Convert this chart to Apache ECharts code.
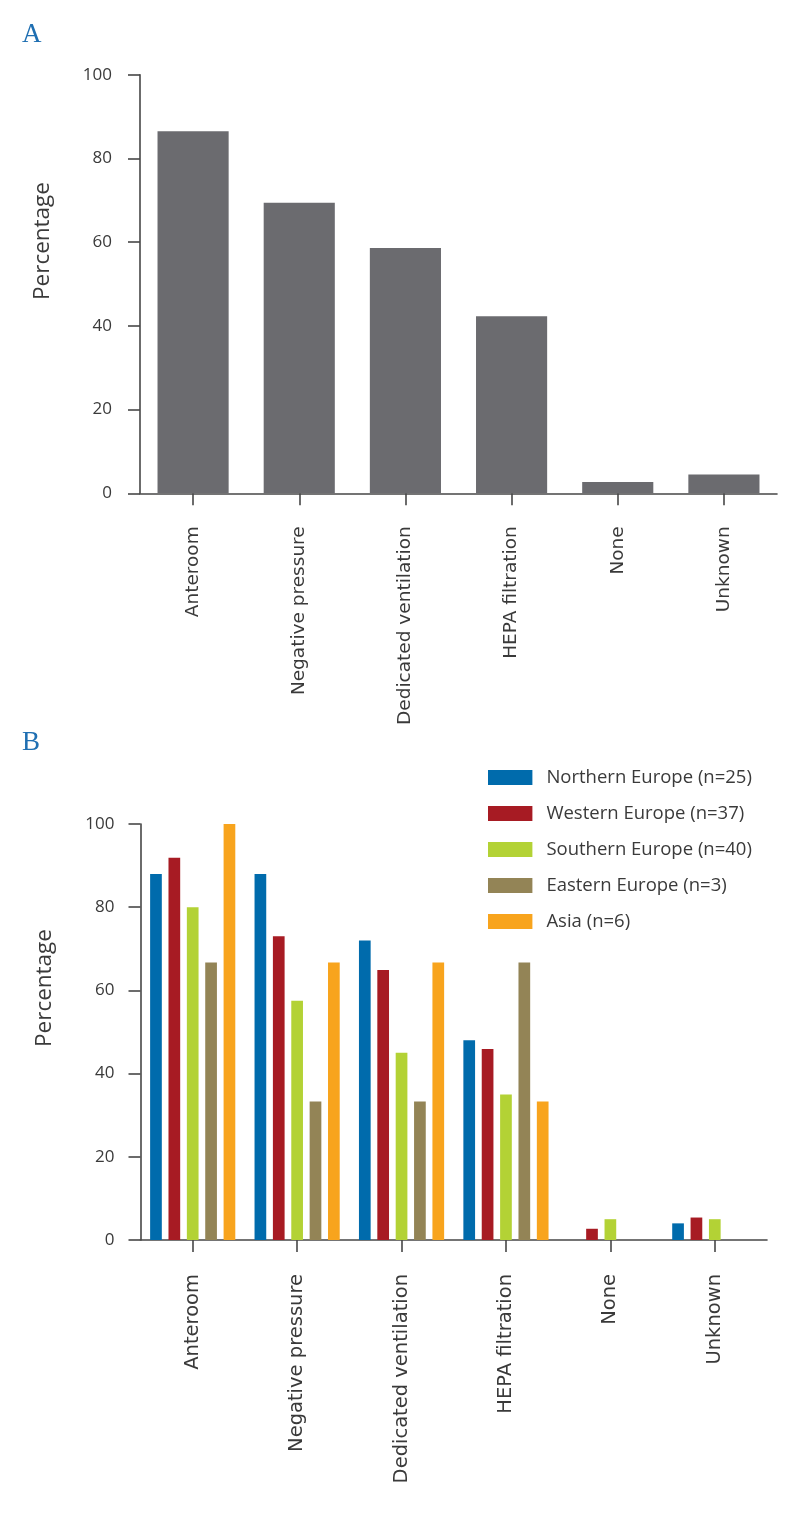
<!DOCTYPE html>
<html>
<head>
<meta charset="utf-8">
<script src="https://cdn.jsdelivr.net/npm/echarts@6/dist/echarts.min.js"></script>
<style>
html,body{margin:0;padding:0;background:#fff;}
#chart{width:800px;height:1516px;}
</style>
</head>
<body>
<div id="chart"></div>
<script>
// ---- data ----
const categories = ['Anteroom', 'Negative pressure', 'Dedicated ventilation', 'HEPA filtration', 'None', 'Unknown'];
const yTicks = [0, 20, 40, 60, 80, 100];
// Panel A: all countries (%)
const overallValues = [86.5, 69.4, 58.6, 42.3, 2.7, 4.5];
// Panel B: by region (%)
const regionNames = ['Northern Europe (n=25)', 'Western Europe (n=37)', 'Southern Europe (n=40)', 'Eastern Europe (n=3)', 'Asia (n=6)'];
const northernEurope = [88.0, 88.0, 72.0, 48.0, 0, 4.0];
const westernEurope = [91.9, 73.0, 64.9, 45.9, 2.7, 5.4];
const southernEurope = [80.0, 57.5, 45.0, 35.0, 5.0, 5.0];
const easternEurope = [66.7, 33.3, 33.3, 66.7, 0, 0];
const asia = [100.0, 66.7, 66.7, 33.3, 0, 0];
const regionValues = [northernEurope, westernEurope, southernEurope, easternEurope, asia];
const regionColors = ['#006bac', '#a71b23', '#b3d235', '#938456', '#f8a41d'];

const axisColor = '#474747';
const textColor = '#3a3a3a';
const chart = echarts.init(document.getElementById('chart'), null, {renderer: 'canvas'});

function yAxisFor(gridIndex, margin) {
  return {
    type: 'value', gridIndex: gridIndex, min: 0, max: 100, interval: 20,
    axisLine: {show: true, lineStyle: {color: axisColor, width: 1.6}},
    axisTick: {show: true, length: 12, lineStyle: {color: axisColor, width: 1.6}},
    splitLine: {show: false},
    axisLabel: {
      margin: margin, color: textColor, fontSize: 17, fontFamily: 'Open Sans',
      formatter: function (v) { return yTicks.indexOf(v) >= 0 ? String(v) : ''; }
    }
  };
}
function xAxisFor(gridIndex, fontSize, margin) {
  return {
    type: 'category', gridIndex: gridIndex, data: categories,
    axisLine: {show: true, lineStyle: {color: axisColor, width: 1.6}},
    axisTick: {show: true, alignWithLabel: true, length: 12, lineStyle: {color: axisColor, width: 1.6}},
    axisLabel: {rotate: 90, margin: margin, interval: 0, color: textColor, fontSize: fontSize, fontFamily: 'DejaVu Sans'}
  };
}

const series = [{
  type: 'bar', name: 'All', xAxisIndex: 0, yAxisIndex: 0, data: overallValues,
  barWidth: '67%', itemStyle: {color: '#6b6b6f'}
}];
regionNames.forEach(function (name, i) {
  series.push({
    type: 'bar', name: name, xAxisIndex: 1, yAxisIndex: 1, data: regionValues[i],
    barWidth: 11.7, barGap: '57%', itemStyle: {color: regionColors[i]}
  });
});

chart.setOption({
  animation: false,
  backgroundColor: '#ffffff',
  grid: [
    {left: 140, right: 23, top: 74.7, bottom: 1516 - 493.3},
    {left: 140.5, right: 33, top: 824, bottom: 1516 - 1240}
  ],
  xAxis: [xAxisFor(0, 18.5, 33), xAxisFor(1, 19.5, 34)],
  yAxis: [yAxisFor(0, 28), yAxisFor(1, 26)],
  legend: {
    data: regionNames, orient: 'vertical', left: 488, top: 768,
    itemWidth: 44.4, itemHeight: 15, itemGap: 17, padding: 0, icon: 'rect',
    textStyle: {color: textColor, fontSize: 18.5, fontFamily: 'Open Sans', padding: [0, 0, 0, 9]}
  },
  graphic: [
    {type: 'text', x: 22, y: 21, style: {text: 'A', font: '27px "Liberation Serif"', fill: '#1f6fb2'}},
    {type: 'text', x: 22, y: 729, style: {text: 'B', font: '27px "Liberation Serif"', fill: '#1f6fb2'}},
    {type: 'text', x: 43, y: 241, rotation: Math.PI / 2,
      style: {text: 'Percentage', x: 0, y: 0, align: 'center', verticalAlign: 'middle', font: '22.5px "Open Sans"', fill: textColor}},
    {type: 'text', x: 45, y: 988, rotation: Math.PI / 2,
      style: {text: 'Percentage', x: 0, y: 0, align: 'center', verticalAlign: 'middle', font: '22.5px "Open Sans"', fill: textColor}}
  ],
  series: series
});
</script>
</body>
</html>
